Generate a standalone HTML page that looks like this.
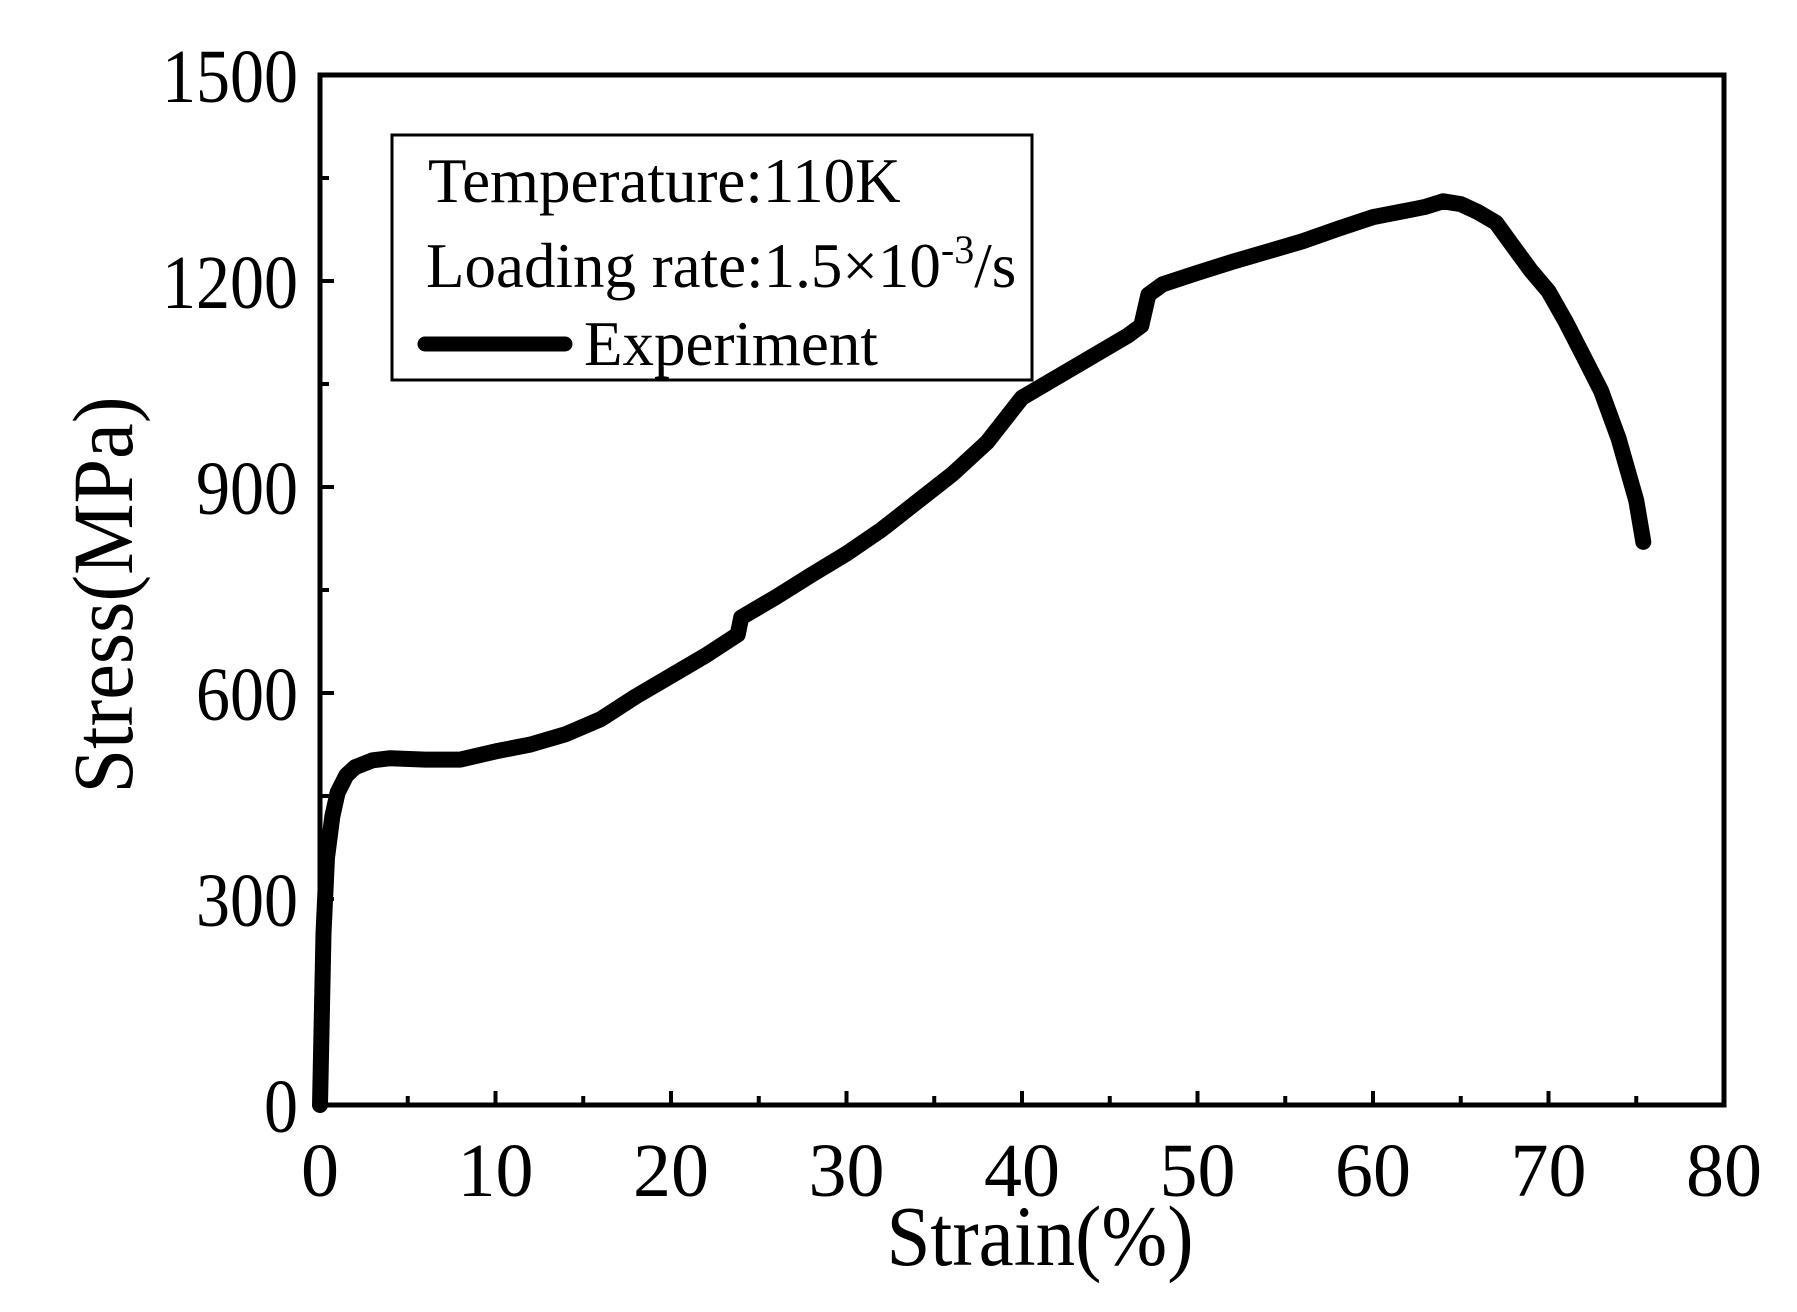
<!DOCTYPE html>
<html><head><meta charset="utf-8"><style>
html,body{margin:0;padding:0;background:#fff;}
svg{display:block;font-family:"Liberation Serif",serif;}
</style></head><body>
<svg id="chart" width="1797" height="1312" viewBox="0 0 1797 1312" xmlns="http://www.w3.org/2000/svg">
<rect x="0" y="0" width="1797" height="1312" fill="#fff"/>
<g id="ticks"></g>
<g id="curve"></g>
<rect x="320" y="75" width="1404" height="1030" fill="none" stroke="#000" stroke-width="5"/>
<text x="1040" y="1265" font-size="86" text-anchor="middle" textLength="307" lengthAdjust="spacingAndGlyphs">Strain(%)</text>
<text transform="translate(132,595) rotate(-90)" font-size="86" text-anchor="middle" textLength="397" lengthAdjust="spacingAndGlyphs">Stress(MPa)</text>
<g>
<rect x="392" y="135" width="640" height="245" fill="#fff" stroke="#000" stroke-width="3"/>
<text x="428" y="202" font-size="63">Temperature:110K</text>
<text x="426" y="287" font-size="63">Loading rate:1.5×10<tspan font-size="40" dy="-24">-3</tspan><tspan dy="24">/s</tspan></text>
<line x1="425" y1="344" x2="565" y2="344" stroke="#000" stroke-width="15" stroke-linecap="round"/>
<text x="584" y="365" font-size="63">Experiment</text>
</g>
</svg>
<script>
const strain = [0,0.2,0.4,0.7,1,1.5,2,3,4,6,8,10,12,14,16,18,20,22,23.8,24,26,28,30,32,34,36,38,40,42,44,46,46.8,47.2,48,50,52,54,56,58,60,62,63,64,65,66,67,68,69,70,71,72,73,74,75,75.4];
const stress = [0,250,360,420,455,480,492,502,505,503,503,515,525,540,562,595,625,655,685,710,740,772,803,838,878,918,965,1030,1060,1090,1120,1135,1180,1195,1212,1228,1243,1258,1276,1293,1303,1308,1316,1312,1300,1285,1250,1215,1185,1140,1090,1040,970,880,820];
const xTicks = [0,10,20,30,40,50,60,70,80];
const yTicks = [0,300,600,900,1200,1500];
const L=320,R=1724,T=75,B=1105;
const xs = v => L + v/80*(R-L);
const ys = v => B - v/1500*(B-T);
const NS="http://www.w3.org/2000/svg";
const tg=document.getElementById('ticks');
function mk(tag,attrs,parent){const e=document.createElementNS(NS,tag);for(const k in attrs)e.setAttribute(k,attrs[k]);parent.appendChild(e);return e;}
for(let v=0;v<=80;v+=5){
  const len = v%10===0?14:9;
  const t=mk('line',{x1:xs(v),x2:xs(v),y1:B,y2:B-len,stroke:'#000','stroke-width':4},tg);
  
  
}
for(let v=0;v<=1500;v+=150){
  const len = v%300===0?14:9;
  const t=mk('line',{x1:L,x2:L+len,y1:ys(v),y2:ys(v),stroke:'#000','stroke-width':4},tg);
  
  
}
xTicks.forEach(v=>{
  const t=mk('text',{x:xs(v),y:1196,'font-size':76,'text-anchor':'middle'},tg);
  
  
  t.textContent=String(v);
});
yTicks.forEach(v=>{
  const t=mk('text',{x:298,y:ys(v)+27,'font-size':76,'text-anchor':'end',textLength:String(v).length*34,lengthAdjust:'spacingAndGlyphs'},tg);
  
  
  t.textContent=String(v);
});
const d = strain.map((s,i)=>(i?'L':'M')+xs(s).toFixed(1)+','+ys(stress[i]).toFixed(1)).join(' ');
const p=mk('path',{d:d,fill:'none',stroke:'#000','stroke-width':16,'stroke-linejoin':'round','stroke-linecap':'round'},document.getElementById('curve'));


</script>
</body></html>
